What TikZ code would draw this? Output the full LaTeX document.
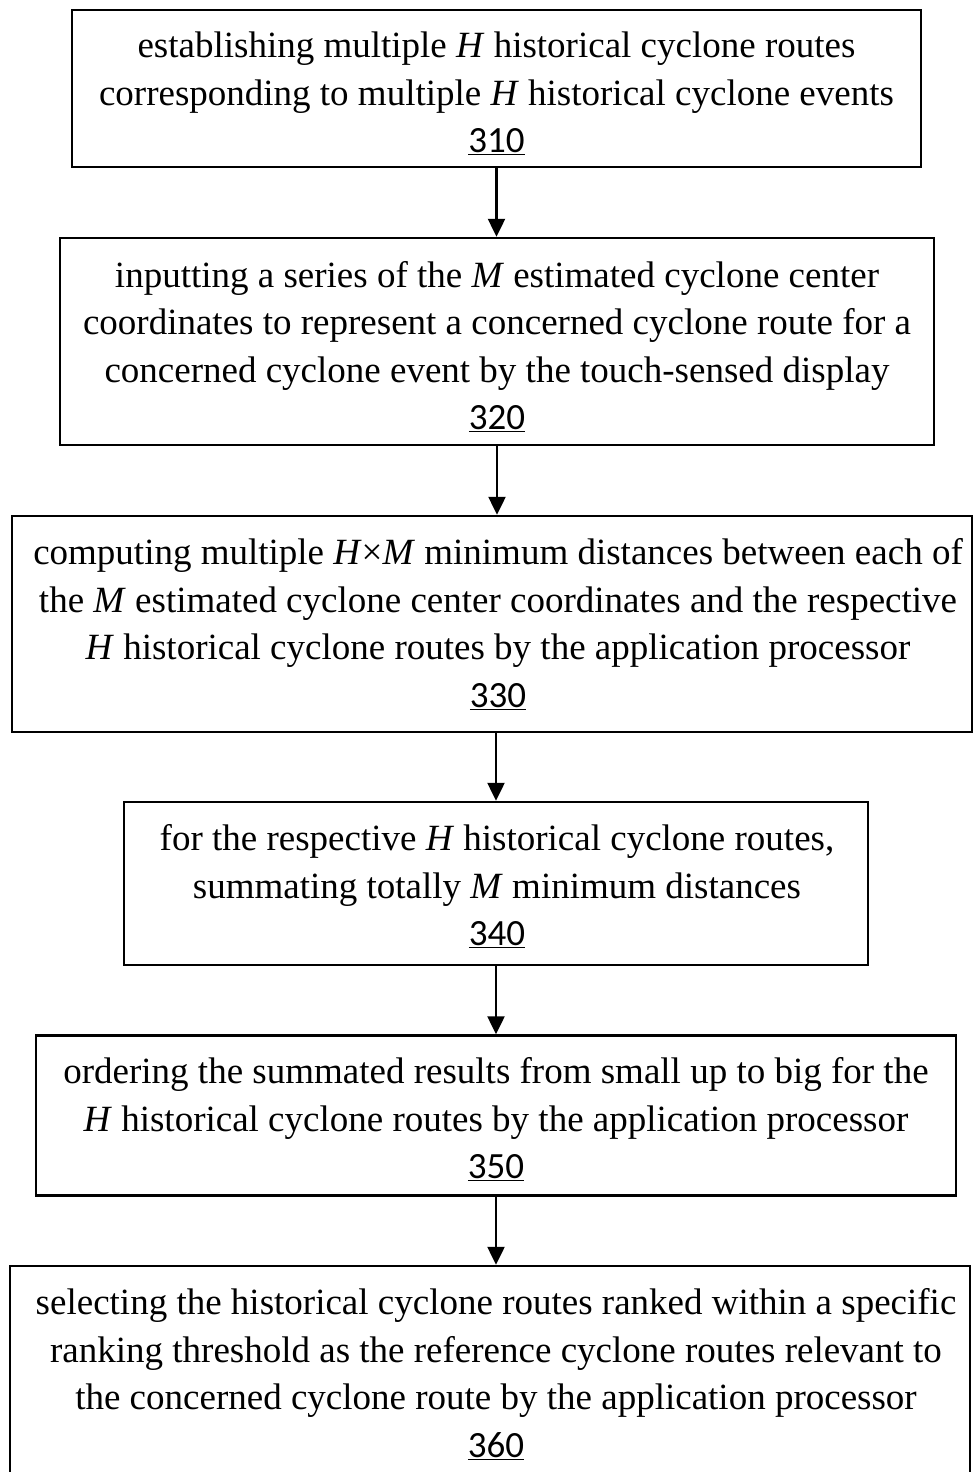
\documentclass[tikz,border=0pt]{standalone}
\usepackage{fontspec}
\setmainfont{Liberation Serif}
\newfontfamily\numfont{Carlito}
\usetikzlibrary{arrows.meta}
\newcommand{\stepnum}[1]{{\numfont\underline{#1}}}
\tikzset{
  stepbox/.style={draw, line width=2.5pt, inner sep=0pt},
  steptext/.style={align=center, inner sep=0pt, font=\fontsize{37}{47.5}\selectfont},
  flow/.style={line width=2.5pt, -{Triangle[width=17pt,length=18pt]}}
}
\begin{document}
\begin{tikzpicture}[x=1pt,y=-1pt]
\clip (0,0) rectangle (974,1472);
\fill[white] (0,0) rectangle (974,1472);

\node[stepbox, minimum width=849pt, minimum height=157pt,
  label={[steptext, yshift=-5pt]center:{establishing multiple \textit{H} historical cyclone routes\\
   corresponding to multiple \textit{H} historical cyclone events\\
   \stepnum{310}}}] (s310) at (496.5,88.5) {};

\node[stepbox, minimum width=874pt, minimum height=207pt,
  label={[steptext, yshift=-5pt]center:{inputting a series of the \textit{M} estimated cyclone center\\
   coordinates to represent a concerned cyclone route for a\\
   concerned cyclone event by the touch-sensed display\\
   \stepnum{320}}}] (s320) at (497,341.5) {};

\node[stepbox, minimum width=960pt, minimum height=216pt,
  label={[steptext, xshift=6pt]center:{computing multiple \textit{H}×\textit{M} minimum distances between each of\\
   the \textit{M} estimated cyclone center coordinates and the respective\\
   \textit{H} historical cyclone routes by the application processor\\
   \stepnum{330}}}] (s330) at (492,624) {};

\node[stepbox, minimum width=744pt, minimum height=163pt,
  label={[steptext, xshift=1pt, yshift=-3pt]center:{for the respective \textit{H} historical cyclone routes,\\
   summating totally \textit{M} minimum distances\\
   \stepnum{340}}}] (s340) at (496,883.5) {};

\node[stepbox, minimum width=920pt, minimum height=160pt,
  label={[steptext, yshift=-4pt]center:{ordering the summated results from small up to big for the\\
   \textit{H} historical cyclone routes by the application processor\\
   \stepnum{350}}}] (s350) at (496,1115.5) {};

\node[stepbox, minimum width=960pt, minimum height=224pt,
  label={[steptext, xshift=6pt, yshift=4pt]center:{selecting the historical cyclone routes ranked within a specific\\
   ranking threshold as the reference cyclone routes relevant to\\
   the concerned cyclone route by the application processor\\
   \stepnum{360}}}] (s360) at (490,1378) {};

\draw[flow] (s310.south) -- (s310.south |- s320.north);
\draw[flow] (s320.south) -- (s320.south |- s330.north);
\draw[flow] (s340.north |- s330.south) -- (s340.north);
\draw[flow] (s340.south) -- (s340.south |- s350.north);
\draw[flow] (s350.south) -- (s350.south |- s360.north);
\end{tikzpicture}
\end{document}
